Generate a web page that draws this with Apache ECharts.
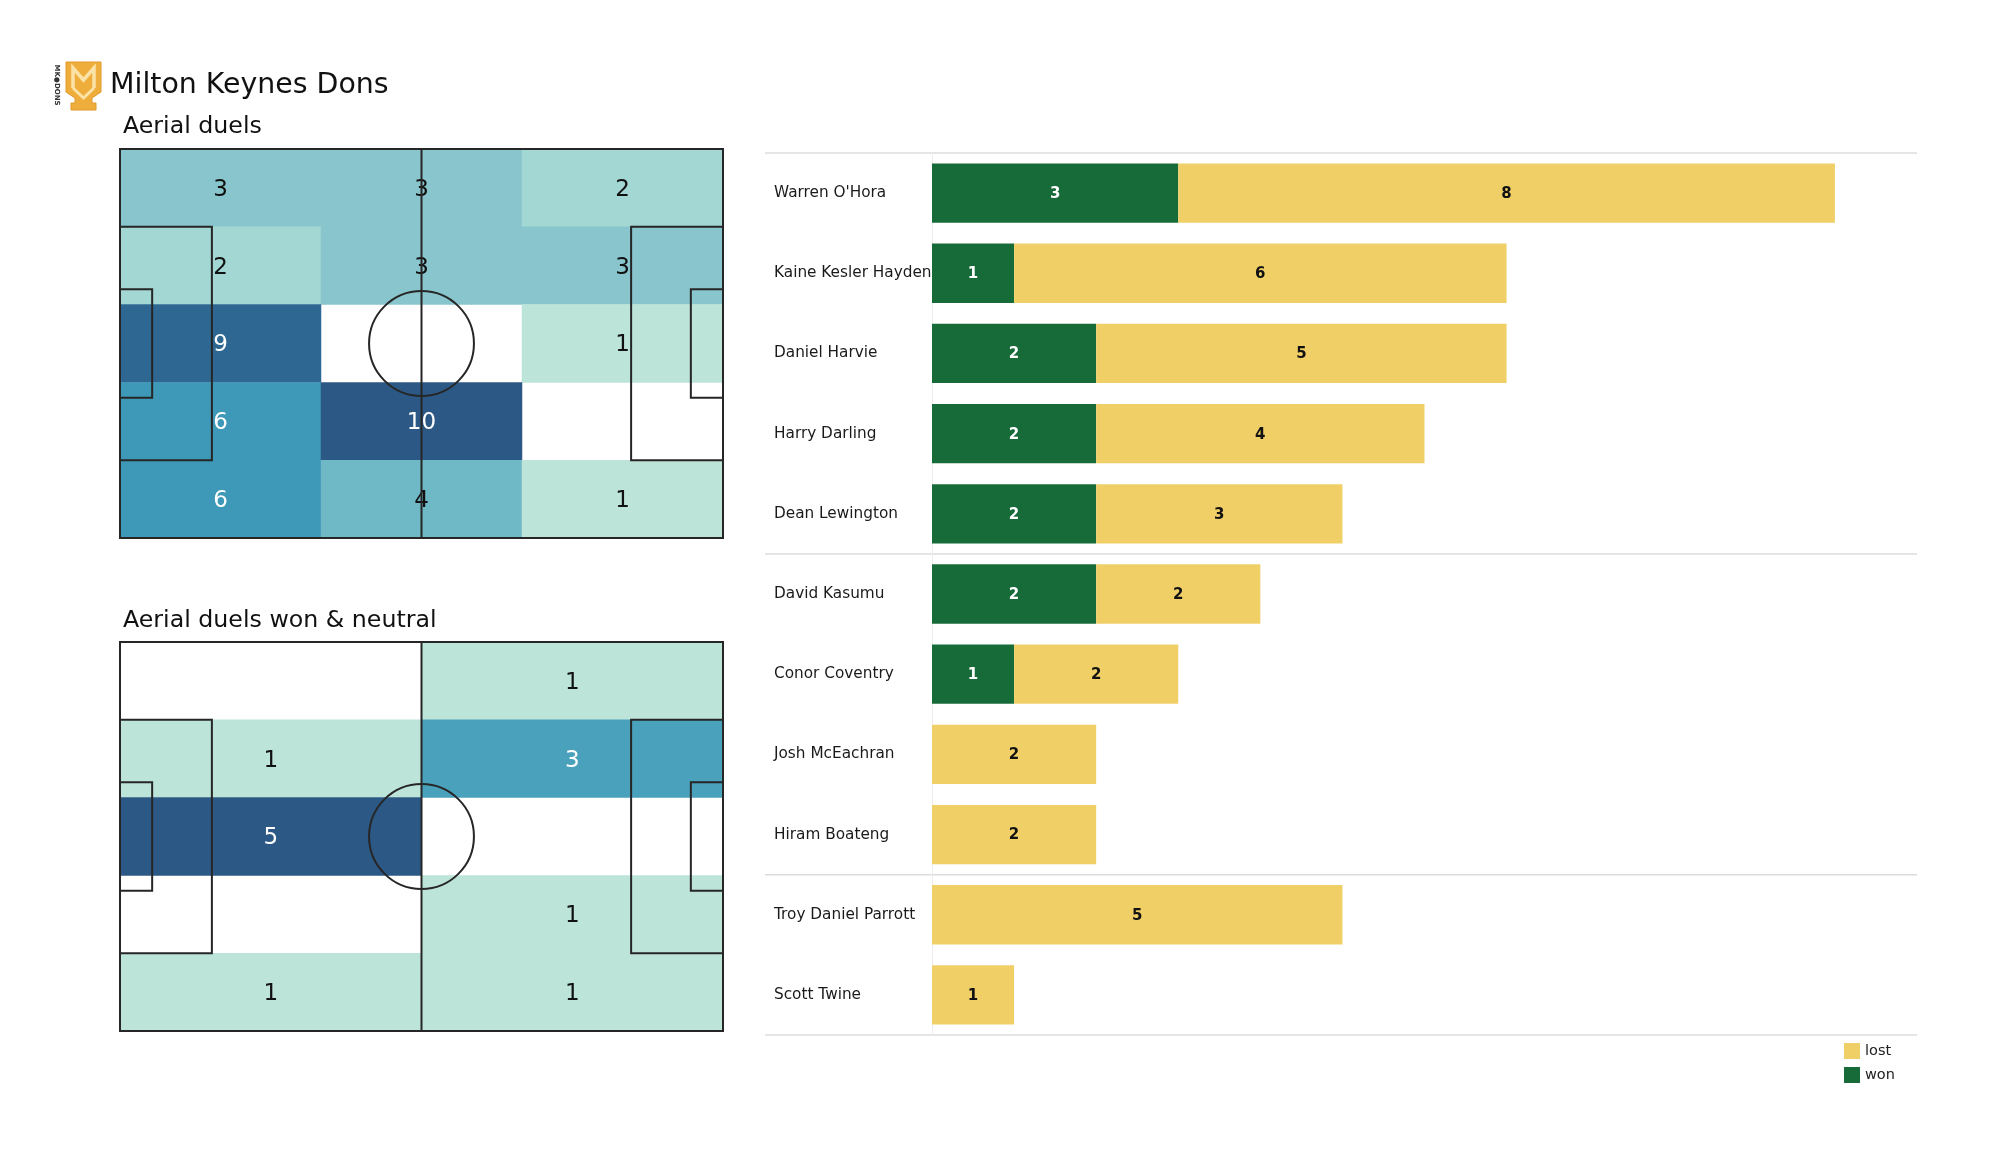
<!DOCTYPE html>
<html><head><meta charset="utf-8">
<script src="https://cdn.jsdelivr.net/npm/echarts@6/dist/echarts.min.js"></script>
<style>html,body{margin:0;padding:0;background:#fff}#c{width:2000px;height:1175px}</style>
</head><body><div id="c"></div>
<script>
// ---------- data ----------
const teamName = 'Milton Keynes Dons';
const titleTop = 'Aerial duels';
const titleBottom = 'Aerial duels won & neutral';
// zone grids, rows top->bottom, cols left->right
const duelsGrid = [
  [3, 3, 2],
  [2, 3, 3],
  [9, 0, 1],
  [6, 10, 0],
  [6, 4, 1]
];
const wonNeutralGrid = [
  [0, 1],
  [1, 3],
  [5, 0],
  [0, 1],
  [1, 1]
];
const players = ["Warren O'Hora", "Kaine Kesler Hayden", "Daniel Harvie", "Harry Darling", "Dean Lewington",
  "David Kasumu", "Conor Coventry", "Josh McEachran", "Hiram Boateng", "Troy Daniel Parrott", "Scott Twine"];
const won  = [3, 1, 2, 2, 2, 2, 1, 0, 0, 0, 0];
const lost = [8, 6, 5, 4, 3, 2, 2, 2, 2, 5, 1];
const groupEnds = [4, 8]; // separator after these player indices
const legendNames = ['lost', 'won'];

// ---------- styles ----------
const FONT = '"DejaVu Sans", sans-serif';
const GREEN = '#176b39', YELLOW = '#f0cf67';
const CMAP = ['#bde4d9', '#a3d7d3', '#88c5cc', '#6fb8c5', '#55aac0', '#3e98b7', '#3783ab', '#33759f', '#2e6892', '#2c5885'];

function heatData(grid) {
  const out = [];
  const vals = grid.flat().filter(v => v > 0);
  const mn = Math.min(...vals), mx = Math.max(...vals);
  grid.forEach((row, r) => row.forEach((v, c) => {
    if (v > 0) {
      const f = (v - mn) / (mx - mn);
      out.push({ value: [c, r, v], label: { color: f >= 0.5 ? '#ffffff' : '#111111' } });
    }
  }));
  return { data: out, min: mn, max: mx };
}
const hTop = heatData(duelsGrid);
const hBot = heatData(wonNeutralGrid);

function pitchRender(params, api) {
  const p = (x, y) => api.coord([x, y]);
  const style = { stroke: '#262626', lineWidth: 2, fill: 'none' };
  const rect = (x0, y0, x1, y1) => {
    const a = p(x0, y0), b = p(x1, y1);
    return { type: 'rect', shape: { x: Math.min(a[0], b[0]), y: Math.min(a[1], b[1]), width: Math.abs(b[0] - a[0]), height: Math.abs(b[1] - a[1]) }, style };
  };
  const c = p(52.5, 34);
  const rx = Math.abs(p(52.5 + 9.15, 34)[0] - c[0]);
  const ry = Math.abs(p(52.5, 34 + 9.15)[1] - c[1]);
  const t = p(52.5, 68), b = p(52.5, 0);
  return {
    type: 'group',
    children: [
      rect(0, 13.6, 16, 54.4),
      rect(0, 24.5, 5.6, 43.5),
      rect(89, 13.6, 105, 54.4),
      rect(99.4, 24.5, 105, 43.5),
      { type: 'line', shape: { x1: t[0], y1: t[1], x2: b[0], y2: b[1] }, style },
      { type: 'circle', shape: { cx: c[0], cy: c[1], r: (rx + ry) / 2 }, style },
      rect(0, 0, 105, 68)
    ]
  };
}

const pitchTop = { left: 120, top: 149, width: 603, height: 389 };
const pitchBot = { left: 120, top: 642, width: 603, height: 389 };
const barGrid = { left: 932, top: 153, width: 985, height: 882 };

const chart = echarts.init(document.getElementById('c'));
chart.setOption({
  animation: false,
  backgroundColor: '#ffffff',
  textStyle: { fontFamily: FONT },
  grid: [
    Object.assign({}, pitchTop), Object.assign({}, pitchTop),
    Object.assign({}, pitchBot), Object.assign({}, pitchBot),
    Object.assign({}, barGrid)
  ],
  xAxis: [
    { gridIndex: 0, type: 'category', data: duelsGrid[0].map((_, i) => i), show: false },
    { gridIndex: 1, type: 'value', min: 0, max: 105, show: false },
    { gridIndex: 2, type: 'category', data: wonNeutralGrid[0].map((_, i) => i), show: false },
    { gridIndex: 3, type: 'value', min: 0, max: 105, show: false },
    { gridIndex: 4, type: 'value', min: 0, max: 12, show: false }
  ],
  yAxis: [
    { gridIndex: 0, type: 'category', inverse: true, data: duelsGrid.map((_, i) => i), show: false },
    { gridIndex: 1, type: 'value', min: 0, max: 68, show: false },
    { gridIndex: 2, type: 'category', inverse: true, data: wonNeutralGrid.map((_, i) => i), show: false },
    { gridIndex: 3, type: 'value', min: 0, max: 68, show: false },
    {
      gridIndex: 4, type: 'category', inverse: true, data: players,
      axisLine: { show: true, lineStyle: { color: '#ececec', width: 1 } },
      axisTick: { show: false },
      splitLine: { show: false },
      axisLabel: { align: 'left', margin: 158, fontSize: 15.3, color: '#1a1a1a', fontFamily: FONT, padding: [6, 0, 0, 0] }
    }
  ],
  visualMap: [
    { type: 'continuous', show: false, seriesIndex: 0, dimension: 2, min: hTop.min, max: hTop.max, inRange: { color: CMAP } },
    { type: 'continuous', show: false, seriesIndex: 2, dimension: 2, min: hBot.min, max: hBot.max, inRange: { color: CMAP } }
  ],
  legend: {
    data: legendNames, orient: 'vertical', left: 1844, top: 1043, padding: 0,
    itemWidth: 16, itemHeight: 16, itemGap: 8, icon: 'rect',
    textStyle: { fontSize: 14.5, color: '#222', fontFamily: FONT }
  },
  series: [
    { type: 'heatmap', xAxisIndex: 0, yAxisIndex: 0, data: hTop.data, z: 1,
      label: { show: true, fontSize: 23, fontFamily: FONT, offset: [0, 2], formatter: p => p.value[2] },
      itemStyle: { borderWidth: 0 }, emphasis: { disabled: true } },
    { type: 'custom', xAxisIndex: 1, yAxisIndex: 1, data: [[0, 0]], renderItem: pitchRender, z: 5, silent: true },
    { type: 'heatmap', xAxisIndex: 2, yAxisIndex: 2, data: hBot.data, z: 1,
      label: { show: true, fontSize: 23, fontFamily: FONT, offset: [0, 2], formatter: p => p.value[2] },
      itemStyle: { borderWidth: 0 }, emphasis: { disabled: true } },
    { type: 'custom', xAxisIndex: 3, yAxisIndex: 3, data: [[0, 0]], renderItem: pitchRender, z: 5, silent: true },
    { type: 'bar', name: 'won', stack: 'duels', xAxisIndex: 4, yAxisIndex: 4, data: won, barCategoryGap: '26%',
      itemStyle: { color: GREEN },
      label: { show: true, position: 'inside', offset: [0, 1], color: '#ffffff', fontWeight: 'bold', fontSize: 15, fontFamily: FONT, formatter: p => p.value ? p.value : '' } },
    { type: 'bar', name: 'lost', stack: 'duels', xAxisIndex: 4, yAxisIndex: 4, data: lost, barCategoryGap: '26%',
      itemStyle: { color: YELLOW },
      label: { show: true, position: 'inside', offset: [0, 1], color: '#111111', fontWeight: 'bold', fontSize: 15, fontFamily: FONT, formatter: p => p.value ? p.value : '' } }
  ]
});

// separators across the bar chart, located through the category axis
const yc = i => chart.convertToPixel({ yAxisIndex: 4 }, i);
const band = yc(1) - yc(0);
const xr = chart.convertToPixel({ xAxisIndex: 4 }, 12);
const sepYs = [yc(0) - band / 2].concat(groupEnds.map(i => (yc(i) + yc(i + 1)) / 2), [yc(players.length - 1) + band / 2]);
const sepLines = sepYs.map(y => ({
  type: 'line', shape: { x1: 765, y1: y, x2: xr, y2: y },
  style: { stroke: '#dcdcdc', lineWidth: 1.5 }, silent: true
}));

const logo = {
  type: 'group', x: 54, y: 61,
  children: [
    { type: 'text', x: 3, y: 24, rotation: -Math.PI / 2,
      style: { text: 'MK●DONS', font: 'bold 7px ' + FONT, fill: '#333', align: 'center', verticalAlign: 'middle', textAlign: 'center', textVerticalAlign: 'middle' } },
    { type: 'polygon', shape: { points: [[12, 1], [47, 1], [47, 31], [38, 37], [38, 42], [42, 42], [42, 49], [17, 49], [17, 42], [21, 42], [21, 37], [12, 31]] },
      style: { fill: '#efae3c', stroke: '#e09a2a', lineWidth: 1 } },
    { type: 'polyline', shape: { points: [[19, 27], [19, 7], [29.5, 19], [40, 7], [40, 27]] },
      style: { stroke: '#fbe3a8', lineWidth: 3.5, fill: 'none' } },
    { type: 'polyline', shape: { points: [[19, 27], [29.5, 37], [40, 27]] },
      style: { stroke: '#fbe3a8', lineWidth: 3, fill: 'none' } }
  ]
};

const txt = (s, x, y, size) => ({
  type: 'text', x: x, y: y,
  style: { text: s, font: size + 'px ' + FONT, fill: '#111', align: 'left', verticalAlign: 'middle', textAlign: 'left', textVerticalAlign: 'middle' }
});

chart.setOption({
  graphic: [
    logo,
    txt(teamName, 110, 86, 28.4),
    txt(titleTop, 123, 127, 23.7),
    txt(titleBottom, 123, 621, 23.7)
  ].concat(sepLines)
});
</script>
</body></html>
